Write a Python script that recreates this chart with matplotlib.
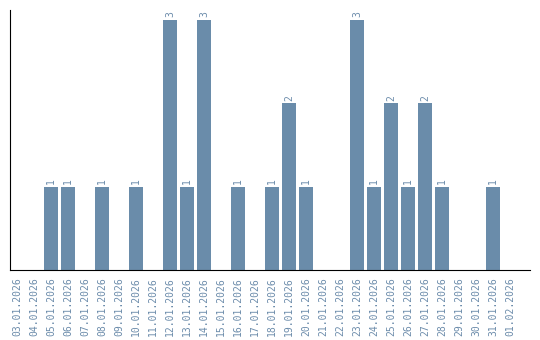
import matplotlib
matplotlib.use('Agg')
import matplotlib.pyplot as plt

dates = ['03.01.2026', '04.01.2026', '05.01.2026', '06.01.2026', '07.01.2026',
         '08.01.2026', '09.01.2026', '10.01.2026', '11.01.2026', '12.01.2026',
         '13.01.2026', '14.01.2026', '15.01.2026', '16.01.2026', '17.01.2026',
         '18.01.2026', '19.01.2026', '20.01.2026', '21.01.2026', '22.01.2026',
         '23.01.2026', '24.01.2026', '25.01.2026', '26.01.2026', '27.01.2026',
         '28.01.2026', '29.01.2026', '30.01.2026', '31.01.2026', '01.02.2026']
counts = [0, 0, 1, 1, 0, 1, 0, 1, 0, 3,
          1, 3, 0, 1, 0, 1, 2, 1, 0, 0,
          3, 1, 2, 1, 2, 1, 0, 0, 1, 0]

bar_color = '#6a8caa'
text_color = '#6c8cab'

fig = plt.figure(figsize=(5.4, 3.4), dpi=100)
ax = fig.add_axes([0.0194, 0.206, 0.962, 0.765])

x = list(range(len(dates)))
ax.bar(x, counts, width=0.82, color=bar_color)

for xi, c in zip(x, counts):
    if c > 0:
        ax.text(xi, c + 0.03, str(c), rotation=90, ha='center', va='bottom',
                fontsize=7, color=text_color, family='DejaVu Sans Mono')

ax.set_xlim(-0.38, 30.18)
ax.set_ylim(0, 3.12)
ax.set_xticks(x)
ax.set_xticklabels(dates, rotation=90, fontsize=7, color=text_color,
                   family='DejaVu Sans Mono')
ax.tick_params(axis='x', length=0, pad=5)
ax.set_yticks([])
ax.spines['top'].set_visible(False)
ax.spines['right'].set_visible(False)

plt.savefig('out.png', dpi=100)
plt.close()
